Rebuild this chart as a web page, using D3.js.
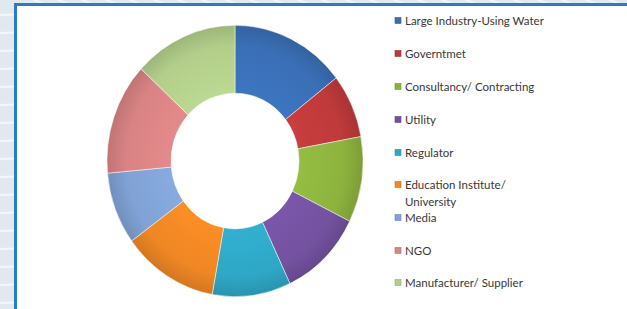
<!DOCTYPE html>
<html><head><meta charset="utf-8">
<script src="https://cdn.jsdelivr.net/npm/d3@7"></script>
<style>html,body{margin:0;padding:0;background:#fff;}svg{display:block;}</style>
</head><body>
<svg id="c" width="627" height="309"></svg>
<script>
const categories = ["Large Industry-Using Water","Governtmet","Consultancy/ Contracting","Utility","Regulator","Education Institute/ University","Media","NGO","Manufacturer/ Supplier"];
const values = [14.5, 7.6, 10.2, 10.6, 9.9, 12.1, 8.6, 13.3, 13.1];
const colors = ["#3a6fb6","#bf3a3b","#8db33e","#7452a0","#2fa7c6","#ef8724","#80a2d5","#d98384","#b2ce8a"];
const legendLines = [["Large Industry-Using Water"],["Governtmet"],["Consultancy/ Contracting"],["Utility"],["Regulator"],["Education Institute/","University"],["Media"],["NGO"],["Manufacturer/ Supplier"]];

const svg = d3.select("#c");
const W = 627, H = 309;

// page background with stripes
svg.append("rect").attr("width", W).attr("height", H).attr("fill", "#e2e9ee");
const stripes = svg.append("g").attr("stroke", "#f4f7f9").attr("stroke-width", 2).attr("fill", "none");
d3.range(-6, 40).forEach(i => {
  stripes.append("path").attr("d", `M ${-20} ${i*18} Q ${10} ${i*18 - 6} ${40} ${i*18 - 2}`);
});
d3.range(0, 30).forEach(i => {
  stripes.append("line").attr("x1", 30 + i*24).attr("y1", -2).attr("x2", 52 + i*24).attr("y2", 8);
});

// frame
svg.append("rect").attr("x", 15.5).attr("y", 4.5).attr("width", W).attr("height", H)
  .attr("fill", "#fff").attr("stroke", "#2a7bc4").attr("stroke-width", 3);

// donut
const defs = svg.append("defs");
const cx = 235, cy = 161, R = 128, r = 64;
colors.forEach((c, i) => {
  const g = defs.append("radialGradient").attr("id", "g" + i)
    .attr("gradientUnits", "userSpaceOnUse").attr("cx", 0).attr("cy", 0).attr("r", R);
  g.append("stop").attr("offset", "50%").attr("stop-color", d3.color(c).brighter(0.15));
  g.append("stop").attr("offset", "85%").attr("stop-color", c);
  g.append("stop").attr("offset", "100%").attr("stop-color", d3.color(c).darker(0.35));
});

const pie = d3.pie().sort(null).value(d => d);
const arc = d3.arc().innerRadius(r).outerRadius(R);
const g = svg.append("g").attr("transform", `translate(${cx},${cy}) scale(1,1.06)`);
g.selectAll("path").data(pie(values)).join("path")
  .attr("d", arc)
  .attr("fill", (d, i) => `url(#g${i})`)
  .attr("stroke", "#ffffff").attr("stroke-opacity", 0.6).attr("stroke-width", 0.8);

// legend
const lg = svg.append("g").attr("font-family", "Lato, 'Open Sans', sans-serif").attr("font-size", 11.5).attr("fill", "#383838");
const rowsY = [21, 54, 87, 120, 153, 185, 218, 251, 283];
legendLines.forEach((lines, i) => {
  const y = rowsY[i];
  lg.append("rect").attr("x", 395).attr("y", y - 3.5).attr("width", 6).attr("height", 6)
    .attr("fill", colors[i]).attr("stroke", d3.color(colors[i]).darker(0.5)).attr("stroke-width", 0.6);
  lines.forEach((t, j) => {
    lg.append("text").attr("x", 405).attr("y", y + j * 17).attr("dy", "0.35em").text(t);
  });
});
</script>
</body></html>
